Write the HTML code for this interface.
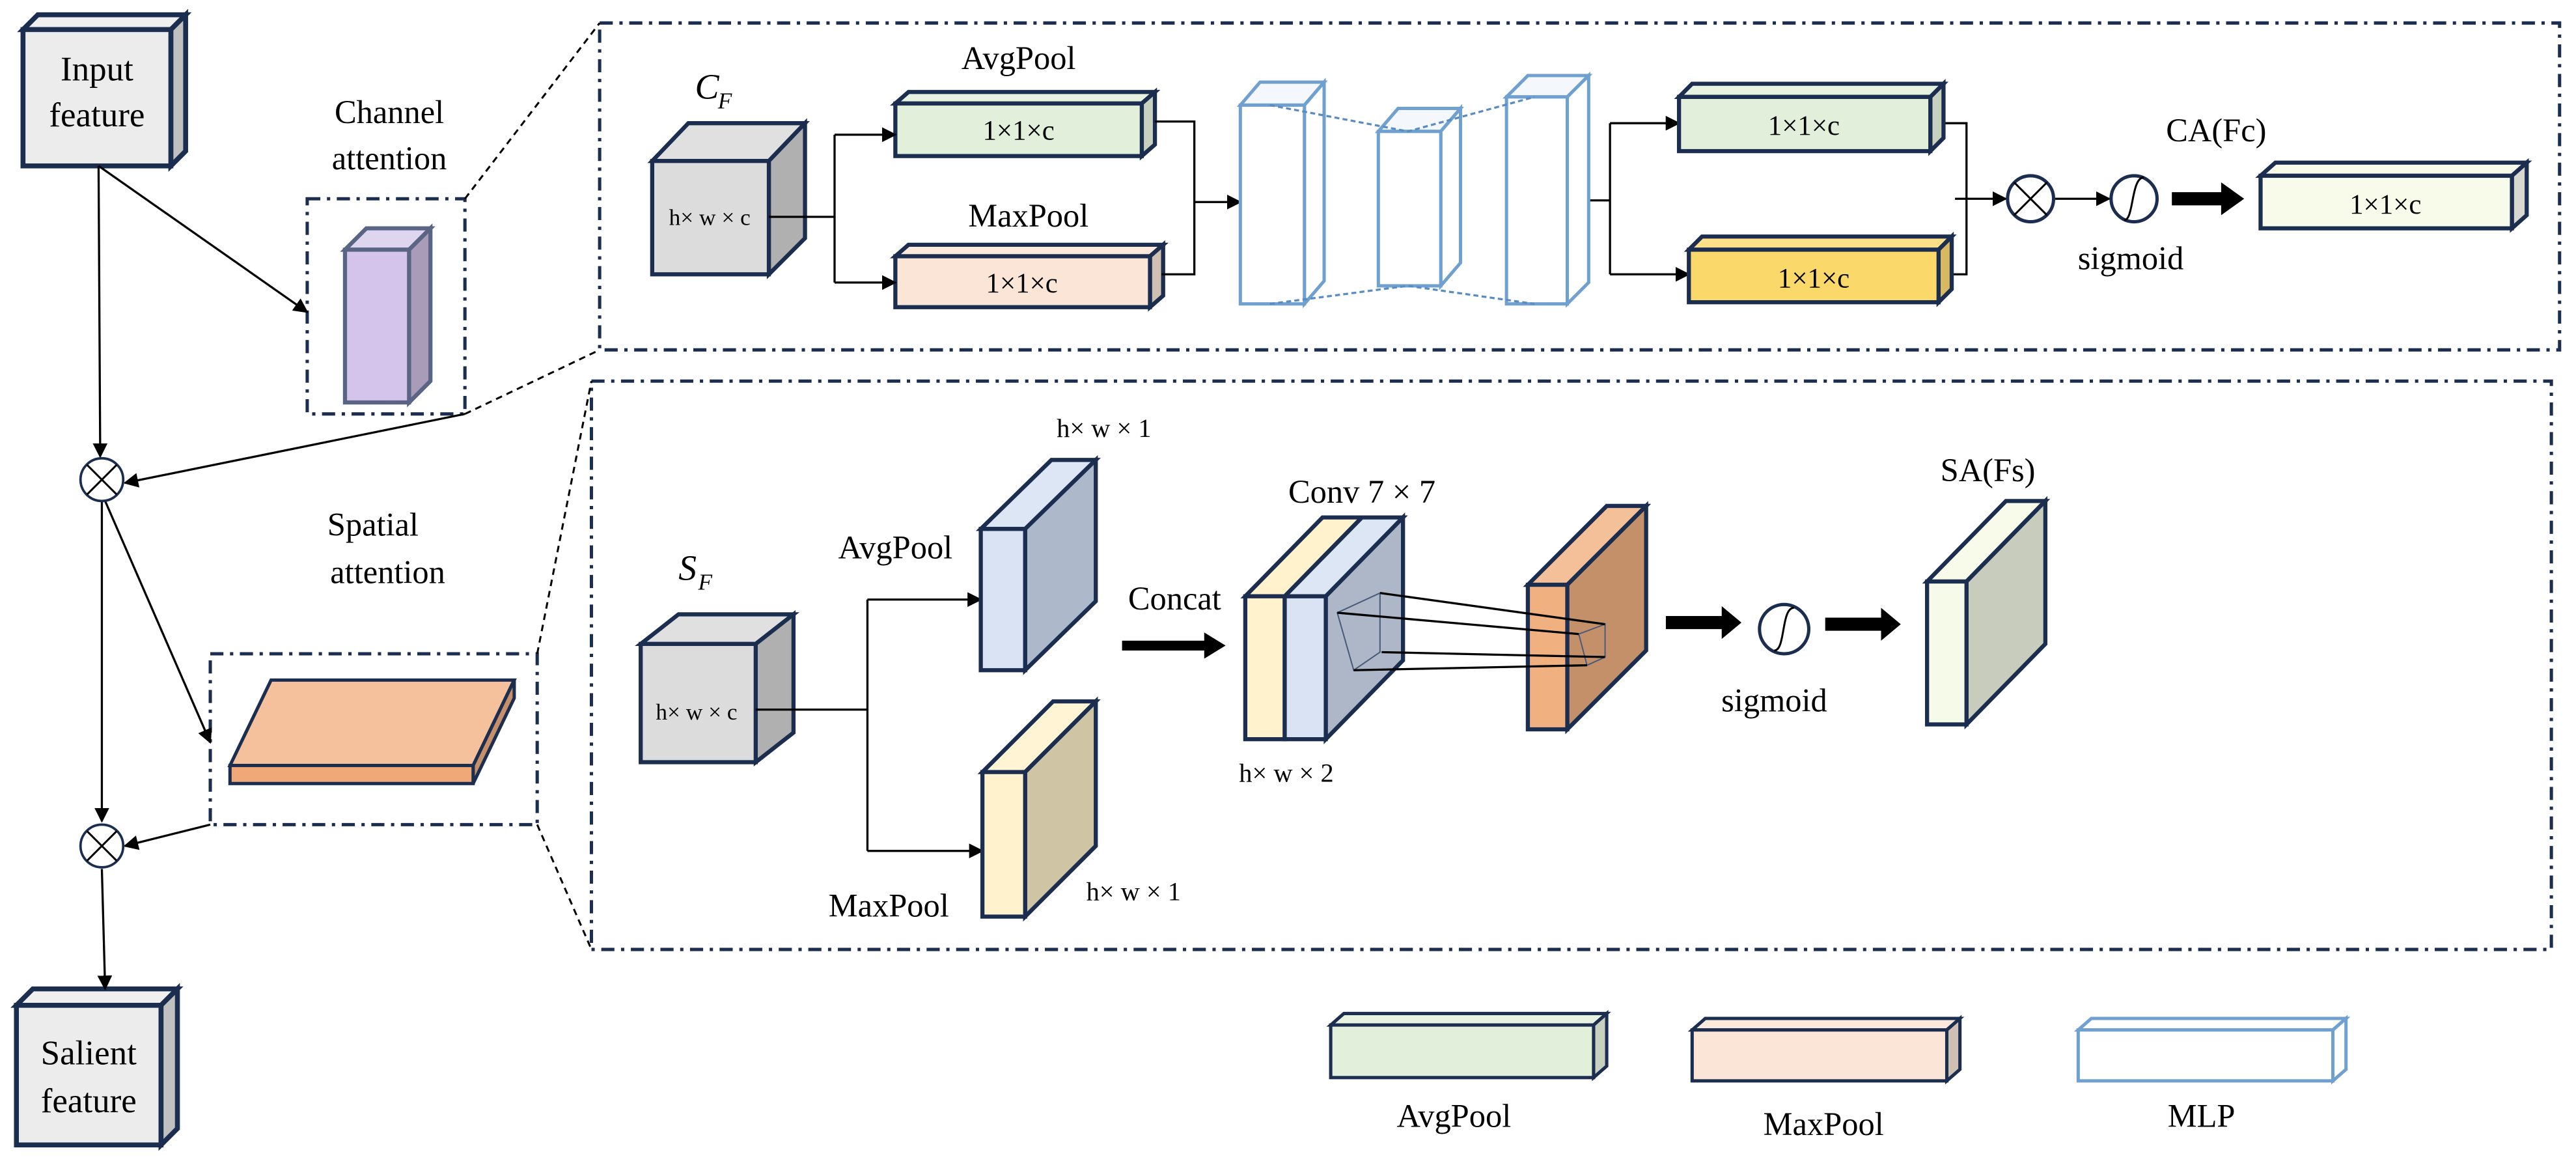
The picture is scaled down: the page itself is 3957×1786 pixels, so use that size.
<!DOCTYPE html>
<html><head><meta charset="utf-8"><style>
html,body{margin:0;padding:0;background:#fff;width:3957px;height:1786px;overflow:hidden}
svg{display:block}
svg text{font-family:"Liberation Serif","DejaVu Serif",serif !important;fill:#000}
</style></head><body>
<svg width="3957" height="1786" viewBox="0 0 1568 708" preserveAspectRatio="none" xmlns="http://www.w3.org/2000/svg" font-family="Liberation Serif, DejaVu Serif, serif">
<defs>
<marker id="a" viewBox="0 0 10 10" refX="9" refY="5" markerWidth="9" markerHeight="9" markerUnits="userSpaceOnUse" orient="auto"><path d="M0,0L10,5L0,10z" fill="#000"/></marker>
</defs>
<g stroke="#1c2e50" stroke-width="3" stroke-linejoin="miter">
<polygon points="14,18 23,9 113,9 104,18" fill="#efefef"/>
<polygon points="104,18 113,9 113,92 104,101" fill="#c0c0c0"/>
<rect x="14" y="18" width="90" height="83" fill="#ececec"/>
<polygon points="10,612 20,602 108,602 98,612" fill="#efefef"/>
<polygon points="98,612 108,602 108,687 98,697" fill="#c0c0c0"/>
<rect x="10" y="612" width="88" height="85" fill="#ececec"/>
</g>
<text x="59" y="49" font-size="21" text-anchor="middle">Input</text>
<text x="59" y="77" font-size="21" text-anchor="middle">feature</text>
<text x="54" y="648" font-size="21" text-anchor="middle">Salient</text>
<text x="54" y="677" font-size="21" text-anchor="middle">feature</text>
<text x="237" y="75" font-size="20" text-anchor="middle">Channel</text>
<text x="237" y="103" font-size="20" text-anchor="middle">attention</text>
<text x="227" y="326" font-size="20" text-anchor="middle">Spatial</text>
<text x="236" y="355" font-size="20" text-anchor="middle">attention</text>

<g fill="none" stroke="#1c2e50" stroke-width="2" stroke-dasharray="8,4,2,4">
<rect x="187" y="121" width="96" height="131"/>
<rect x="128" y="398" width="199" height="104"/>
<rect x="365" y="14" width="1193" height="199"/>
<rect x="360" y="232" width="1193" height="346"/>
</g>
<g stroke="#000" stroke-width="1.2" stroke-dasharray="4,3" fill="none">
<line x1="283" y1="121" x2="365" y2="14"/>
<line x1="283" y1="252" x2="365" y2="213"/>
<line x1="327" y1="398" x2="360" y2="232"/>
<line x1="327" y1="502" x2="360" y2="578"/>
</g>
<g stroke="#5a6585" stroke-width="2.5">
<polygon points="210,152 223,139 262,139 249,152" fill="#ddd6ee"/>
<polygon points="249,152 262,139 262,232 249,245" fill="#a89cb8"/>
<rect x="210" y="152" width="39" height="93" fill="#d4c4ec"/>
</g>
<g stroke="#1c2e50" stroke-width="2">
<polygon points="140,466 165,414 313,414 288,466" fill="#f5c09c"/>
<polygon points="288,466 313,414 313,425 288,477" fill="#c8906a"/>
<rect x="140" y="466" width="148" height="11" fill="#f0a878"/>
</g>
<g stroke="#000" stroke-width="1.3" fill="none">
<line x1="60" y1="101" x2="61" y2="278" marker-end="url(#a)"/>
<line x1="60" y1="101" x2="187" y2="190" marker-end="url(#a)"/>
<line x1="283" y1="252" x2="76" y2="294" marker-end="url(#a)"/>
<line x1="62" y1="305" x2="62" y2="500" marker-end="url(#a)"/>
<line x1="64" y1="305" x2="128" y2="452" marker-end="url(#a)"/>
<line x1="128" y1="502" x2="76" y2="515" marker-end="url(#a)"/>
<line x1="62" y1="529" x2="64" y2="602" marker-end="url(#a)"/>
</g>
<g stroke="#1c2e50" stroke-width="1.5" fill="#fff">
<circle cx="62" cy="292" r="13"/><circle cx="62" cy="515" r="13"/>
</g>
<g stroke="#000" stroke-width="1.2">
<line x1="53" y1="283" x2="71" y2="301"/><line x1="71" y1="283" x2="53" y2="301"/>
<line x1="53" y1="506" x2="71" y2="524"/><line x1="71" y1="506" x2="53" y2="524"/>
</g>

<text x="423" y="60" font-size="22" font-style="italic">C</text><text x="437" y="66" font-size="14" font-style="italic">F</text>
<g stroke="#1c2e50" stroke-width="2.5">
<polygon points="397,98 419,75 490,75 468,98" fill="#e0e0e0"/>
<polygon points="468,98 490,75 490,145 468,167" fill="#b0b0b0"/>
<rect x="397" y="98" width="71" height="69" fill="#dcdcdc"/>
</g>
<text x="432" y="137" font-size="14" text-anchor="middle">h× w × c</text>
<text x="620" y="42" font-size="20" text-anchor="middle">AvgPool</text>
<text x="626" y="138" font-size="20" text-anchor="middle">MaxPool</text>
<g stroke="#1c2e50" stroke-width="2.5">
<polygon points="545,63 553,56 703,56 695,63" fill="#e8f2e0"/>
<polygon points="695,63 703,56 703,88 695,95" fill="#c8d0c0"/>
<rect x="545" y="63" width="150" height="32" fill="#e2efda"/>
<polygon points="545,156 553,149 708,149 700,156" fill="#fce9dc"/>
<polygon points="700,156 708,149 708,180 700,187" fill="#d0c0b4"/>
<rect x="545" y="156" width="155" height="31" fill="#fbe5d6"/>
</g>
<text x="620" y="85" font-size="17" text-anchor="middle">1×1×c</text>
<text x="622" y="178" font-size="17" text-anchor="middle">1×1×c</text>
<g stroke="#000" stroke-width="1.3" fill="none">
<polyline points="468,132 508,132"/>
<line x1="508" y1="82" x2="508" y2="172"/>
<line x1="508" y1="82" x2="545" y2="82" marker-end="url(#a)"/>
<line x1="508" y1="172" x2="545" y2="172" marker-end="url(#a)"/>
<polyline points="703,74 727,74 727,167 707,167"/>
<line x1="727" y1="123" x2="755" y2="123" marker-end="url(#a)"/>
<polyline points="954,122 980,122"/>
<line x1="980" y1="75" x2="980" y2="167"/>
<line x1="980" y1="75" x2="1022" y2="75" marker-end="url(#a)"/>
<line x1="980" y1="167" x2="1028" y2="167" marker-end="url(#a)"/>
<polyline points="1175,75 1197,75 1197,167 1180,167"/>
<line x1="1190" y1="121" x2="1221" y2="121" marker-end="url(#a)"/>
<line x1="1251" y1="121" x2="1284" y2="121" marker-end="url(#a)"/>
</g>
<g stroke="#6fa0d0" stroke-width="2" fill="#fff">
<polygon points="755,64 767,50 806,50 794,64" fill="#f4f8fc"/>
<polygon points="794,64 806,50 806,171 794,185"/>
<rect x="755" y="64" width="39" height="121"/>
<polygon points="839,80 851,66 889,66 877,80" fill="#f4f8fc"/>
<polygon points="877,80 889,66 889,160 877,174"/>
<rect x="839" y="80" width="38" height="94"/>
<polygon points="917,59 930,46 967,46 954,59" fill="#f4f8fc"/>
<polygon points="954,59 967,46 967,172 954,185"/>
<rect x="917" y="59" width="37" height="126"/>
</g>
<g stroke="#5a8cc4" stroke-width="1.3" fill="none" stroke-dasharray="3,2">
<polyline points="773,64 857,80 934,59"/>
<polyline points="773,185 857,174 934,185"/>
</g>
<g stroke="#1c2e50" stroke-width="2.5">
<polygon points="1022,59 1030,51 1183,51 1175,59" fill="#e8f2e0"/>
<polygon points="1175,59 1183,51 1183,84 1175,92" fill="#c8d0c0"/>
<rect x="1022" y="59" width="153" height="33" fill="#e2efda"/>
<polygon points="1028,152 1036,144 1188,144 1180,152" fill="#fde088"/>
<polygon points="1180,152 1188,144 1188,176 1180,184" fill="#d8b860"/>
<rect x="1028" y="152" width="152" height="32" fill="#fad86a"/>
<polygon points="1376,107 1385,99 1538,99 1529,107" fill="#f8fbea"/>
<polygon points="1529,107 1538,99 1538,131 1529,139" fill="#d8d8d0"/>
<rect x="1376" y="107" width="153" height="32" fill="#f8fbea"/>
</g>
<text x="1098" y="82" font-size="17" text-anchor="middle">1×1×c</text>
<text x="1104" y="175" font-size="17" text-anchor="middle">1×1×c</text>
<text x="1452" y="130" font-size="17" text-anchor="middle">1×1×c</text>
<text x="1349" y="86" font-size="20" text-anchor="middle">CA(Fc)</text>
<g stroke="#1c2e50" stroke-width="2" fill="#fff">
<circle cx="1236" cy="121" r="14"/><circle cx="1299" cy="121" r="14"/>
</g>
<g stroke="#000" stroke-width="1.2" fill="none">
<line x1="1226" y1="111" x2="1246" y2="131"/><line x1="1246" y1="111" x2="1226" y2="131"/>
<path d="M1293,134 C1299,134 1297,108 1305,108"/>
</g>
<path d="M1322,117 L1352,117 L1352,111 L1366,121 L1352,131 L1352,125 L1322,125 Z" fill="#000"/>
<text x="1297" y="164" font-size="20" text-anchor="middle">sigmoid</text>

<text x="413" y="353" font-size="22" font-style="italic">S</text><text x="425" y="359" font-size="14" font-style="italic">F</text>
<g stroke="#1c2e50" stroke-width="2.5">
<polygon points="390,392 413,374 483,374 460,392" fill="#e0e0e0"/>
<polygon points="460,392 483,374 483,446 460,464" fill="#b0b0b0"/>
<rect x="390" y="392" width="70" height="72" fill="#dcdcdc"/>
</g>
<text x="424" y="438" font-size="14" text-anchor="middle">h× w × c</text>
<g stroke="#000" stroke-width="1.3" fill="none">
<line x1="460" y1="432" x2="528" y2="432"/>
<line x1="528" y1="365" x2="528" y2="518"/>
<line x1="528" y1="365" x2="597" y2="365" marker-end="url(#a)"/>
<line x1="528" y1="518" x2="598" y2="518" marker-end="url(#a)"/>
</g>
<text x="545" y="340" font-size="20" text-anchor="middle">AvgPool</text>
<text x="541" y="558" font-size="20" text-anchor="middle">MaxPool</text>
<text x="672" y="266" font-size="16" text-anchor="middle">h× w × 1</text>
<text x="690" y="548" font-size="16" text-anchor="middle">h× w × 1</text>
<g stroke="#1c2e50" stroke-width="2.5">
<polygon points="597,322 640,280 667,280 624,322" fill="#dde6f4"/>
<polygon points="624,322 667,280 667,366 624,408" fill="#adb9ca"/>
<rect x="597" y="322" width="27" height="86" fill="#dae3f3"/>
<polygon points="598,470 641,427 667,427 624,470" fill="#fff4d4"/>
<polygon points="624,470 667,427 667,515 624,558" fill="#cfc4a4"/>
<rect x="598" y="470" width="26" height="88" fill="#fff2cc"/>
</g>
<text x="715" y="371" font-size="20" text-anchor="middle">Concat</text>
<path d="M683,390 L733,390 L733,385 L746,393 L733,401 L733,396 L683,396 Z" fill="#000"/>
<text x="829" y="306" font-size="20" text-anchor="middle">Conv 7 × 7</text>
<g stroke="#1c2e50" stroke-width="2.5">
<polygon points="758,363 805,315 829,315 782,363" fill="#fff2cc"/>
<polygon points="782,363 829,315 854,315 807,363" fill="#dde6f4"/>
<polygon points="807,363 854,315 854,402 807,450" fill="#adb7c8"/>
<rect x="758" y="363" width="24" height="87" fill="#fff2cc"/>
<rect x="782" y="363" width="25" height="87" fill="#dae3f3"/>
<polygon points="930,356 978,308 1002,308 954,356" fill="#f4c09a"/>
<polygon points="954,356 1002,308 1002,396 954,444" fill="#c4906a"/>
<rect x="930" y="356" width="24" height="88" fill="#f0b080"/>
<polygon points="1173,354 1221,305 1245,305 1197,354" fill="#f8fbea"/>
<polygon points="1197,354 1245,305 1245,392 1197,441" fill="#c8ccbc"/>
<rect x="1173" y="354" width="24" height="87" fill="#f6fae8"/>
</g>
<g stroke="#4a5a7a" stroke-width="0.8" fill="none">
<polygon points="840,361 840,397 824,408 814,373"/>
<polygon points="977,380 977,400 966,405 961,386"/>
</g>
<g stroke="#000" stroke-width="1.3">
<line x1="840" y1="361" x2="977" y2="380"/>
<line x1="814" y1="373" x2="961" y2="386"/>
<line x1="841" y1="397" x2="977" y2="400"/>
<line x1="824" y1="408" x2="966" y2="405"/>
</g>
<text x="783" y="476" font-size="16" text-anchor="middle">h× w × 2</text>
<path d="M1014,375 L1048,375 L1048,369 L1060,379 L1048,389 L1048,383 L1014,383 Z" fill="#000"/>
<circle cx="1086" cy="383" r="15" fill="#fff" stroke="#1c2e50" stroke-width="2"/>
<path d="M1080,396 C1087,396 1084,370 1092,370" stroke="#000" stroke-width="1.2" fill="none"/>
<path d="M1111,376 L1145,376 L1145,370 L1157,380 L1145,390 L1145,384 L1111,384 Z" fill="#000"/>
<text x="1080" y="433" font-size="20" text-anchor="middle">sigmoid</text>
<text x="1210" y="293" font-size="20" text-anchor="middle">SA(Fs)</text>

<g stroke="#1c2e50" stroke-width="2">
<polygon points="810,624 818,617 978,617 970,624" fill="#e8f2e0"/>
<polygon points="970,624 978,617 978,649 970,656" fill="#c8d0c0"/>
<rect x="810" y="624" width="160" height="32" fill="#e2efda"/>
<polygon points="1030,627 1038,620 1193,620 1185,627" fill="#fce9dc"/>
<polygon points="1185,627 1193,620 1193,651 1185,658" fill="#d0c0b4"/>
<rect x="1030" y="627" width="155" height="31" fill="#fbe5d6"/>
</g>
<g stroke="#6fa0d0" stroke-width="2" fill="#fff">
<polygon points="1265,627 1273,620 1428,620 1420,627"/>
<polygon points="1420,627 1428,620 1428,651 1420,658"/>
<rect x="1265" y="627" width="155" height="31"/>
</g>
<text x="885" y="686" font-size="20" text-anchor="middle">AvgPool</text>
<text x="1110" y="691" font-size="20" text-anchor="middle">MaxPool</text>
<text x="1340" y="686" font-size="20" text-anchor="middle">MLP</text>
</svg>
</body></html>
